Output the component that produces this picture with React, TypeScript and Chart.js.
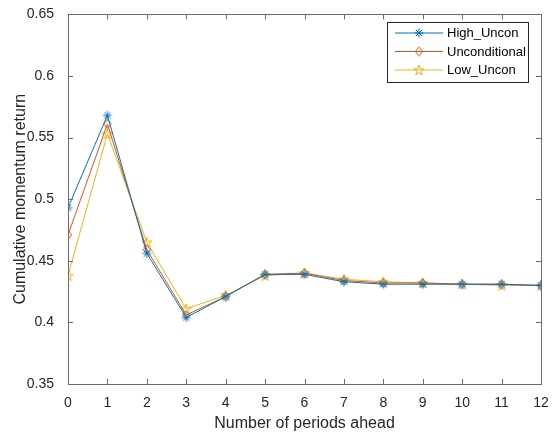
import React, { useEffect, useRef } from "react";
import { Chart, registerables } from "chart.js";

Chart.register(...registerables);

const periods = [0, 1, 2, 3, 4, 5, 6, 7, 8, 9, 10, 11, 12];
const highUncon = [0.493, 0.568, 0.456, 0.404, 0.421, 0.439, 0.439, 0.433, 0.431, 0.431, 0.431, 0.431, 0.430];
const unconditional = [0.471, 0.561, 0.459, 0.406, 0.421, 0.439, 0.440, 0.434, 0.432, 0.432, 0.431, 0.431, 0.430];
const lowUncon = [0.438, 0.553, 0.465, 0.411, 0.422, 0.438, 0.440, 0.435, 0.433, 0.432, 0.431, 0.430, 0.430];
const seriesNames = ["High_Uncon", "Unconditional", "Low_Uncon"];
const yTicks = [0.35, 0.4, 0.45, 0.5, 0.55, 0.6, 0.65];

const BLUE = "#0072BD";
const ORANGE = "#D95319";
const YELLOW = "#EDB120";
const AXIS = "#6b6b6b";
const TEXT = "#262626";
const FONT = "Liberation Sans, Arial, Helvetica, sans-serif";

function makeMarker(kind: string, color: string): HTMLCanvasElement {
  const s = 14;
  const c = document.createElement("canvas");
  c.width = s;
  c.height = s;
  const g = c.getContext("2d")!;
  g.strokeStyle = color;
  g.lineWidth = 1;
  const cx = s / 2;
  const cy = s / 2;
  g.beginPath();
  if (kind === "asterisk") {
    const r = 4.5;
    g.moveTo(cx - r, cy); g.lineTo(cx + r, cy);
    g.moveTo(cx, cy - r); g.lineTo(cx, cy + r);
    const d = r * 0.72;
    g.moveTo(cx - d, cy - d); g.lineTo(cx + d, cy + d);
    g.moveTo(cx - d, cy + d); g.lineTo(cx + d, cy - d);
  } else if (kind === "diamond") {
    const r = 4.5;
    g.moveTo(cx, cy - r); g.lineTo(cx + r * 0.8, cy); g.lineTo(cx, cy + r); g.lineTo(cx - r * 0.8, cy); g.closePath();
  } else {
    const R = 5.5;
    const r = R * 0.382;
    for (let i = 0; i < 10; i++) {
      const a = -Math.PI / 2 + (i * Math.PI) / 5;
      const rr = i % 2 === 0 ? R : r;
      const px = cx + rr * Math.cos(a);
      const py = cy + 0.5 + rr * Math.sin(a);
      if (i === 0) g.moveTo(px, py); else g.lineTo(px, py);
    }
    g.closePath();
  }
  g.stroke();
  return c;
}

export default function App() {
  const ref = useRef<HTMLCanvasElement>(null);

  useEffect(() => {
    document.body.style.margin = "0";
    const markers = [makeMarker("asterisk", BLUE), makeMarker("diamond", ORANGE), makeMarker("pentagram", YELLOW)];
    const colors = [BLUE, ORANGE, YELLOW];
    const values = [highUncon, unconditional, lowUncon];

    const boxPlugin = {
      id: "matlabBox",
      afterDatasetsDraw(chart: any) {
        const { ctx, chartArea: a, scales } = chart;
        ctx.save();
        ctx.strokeStyle = AXIS;
        ctx.lineWidth = 1;
        ctx.strokeRect(Math.round(a.left) + 0.5, Math.round(a.top) + 0.5, Math.round(a.right - a.left), Math.round(a.bottom - a.top));
        const tl = 5;
        ctx.beginPath();
        for (const p of periods) {
          const x = Math.round(scales.x.getPixelForValue(p)) + 0.5;
          ctx.moveTo(x, a.bottom); ctx.lineTo(x, a.bottom - tl);
          ctx.moveTo(x, a.top); ctx.lineTo(x, a.top + tl);
        }
        for (const v of yTicks) {
          const y = Math.round(scales.y.getPixelForValue(v)) + 0.5;
          ctx.moveTo(a.left, y); ctx.lineTo(a.left + tl, y);
          ctx.moveTo(a.right, y); ctx.lineTo(a.right - tl, y);
        }
        ctx.stroke();

        // legend
        const lx = 387, ly = 22, lw = 141, lh = 60;
        ctx.fillStyle = "#ffffff";
        ctx.fillRect(lx, ly, lw, lh);
        ctx.strokeStyle = "#262626";
        ctx.strokeRect(lx + 0.5, ly + 0.5, lw, lh);
        ctx.font = `13px ${FONT}`;
        ctx.textBaseline = "middle";
        ctx.textAlign = "left";
        for (let i = 0; i < 3; i++) {
          const y = ly + 11 + i * 18.5;
          ctx.strokeStyle = colors[i];
          ctx.lineWidth = 1;
          ctx.beginPath();
          ctx.moveTo(lx + 8, y); ctx.lineTo(lx + 56, y);
          ctx.stroke();
          ctx.drawImage(markers[i], lx + 32 - 7, y - 7);
          ctx.fillStyle = "#000000";
          ctx.fillText(seriesNames[i], lx + 60, y + 0.5);
        }
        ctx.restore();
      },
    };

    const chart = new Chart(ref.current!, {
      type: "line",
      data: {
        datasets: values.map((vals, i) => ({
          label: seriesNames[i],
          data: periods.map((p, j) => ({ x: p, y: vals[j] })),
          borderColor: colors[i],
          backgroundColor: colors[i],
          borderWidth: 1,
          pointStyle: markers[i] as any,
          pointRadius: 5,
          tension: 0,
        })),
      },
      options: {
        responsive: false,
        animation: false,
        layout: { padding: { top: 13, right: 14, left: 0, bottom: 0 } },
        plugins: { legend: { display: false }, tooltip: { enabled: false } },
        scales: {
          x: {
            type: "linear",
            min: 0,
            max: 12,
            afterBuildTicks: (s: any) => { s.ticks = periods.map((v) => ({ value: v })); },
            afterFit: (s: any) => { s.height = 53; },
            grid: { display: false },
            border: { display: false },
            ticks: { color: TEXT, font: { size: 14, family: FONT }, padding: 3, maxRotation: 0, autoSkip: false },
            title: { display: true, text: "Number of periods ahead", color: TEXT, font: { size: 16, family: FONT }, padding: { top: 2, bottom: 4 } },
          },
          y: {
            type: "linear",
            min: 0.35,
            max: 0.65,
            afterBuildTicks: (s: any) => { s.ticks = yTicks.map((v) => ({ value: v })); },
            afterFit: (s: any) => { s.width = 68; },
            grid: { display: false },
            border: { display: false },
            ticks: { color: TEXT, font: { size: 14, family: FONT }, padding: 6, callback: (v: any) => String(Number(Number(v).toFixed(2))) },
            title: { display: true, text: "Cumulative momentum return", color: TEXT, font: { size: 16, family: FONT }, padding: { top: 11, bottom: 0 } },
          },
        },
      },
      plugins: [boxPlugin],
    });
    return () => chart.destroy();
  }, []);

  return <canvas ref={ref} width={555} height={437} style={{ display: "block" }} />;
}
